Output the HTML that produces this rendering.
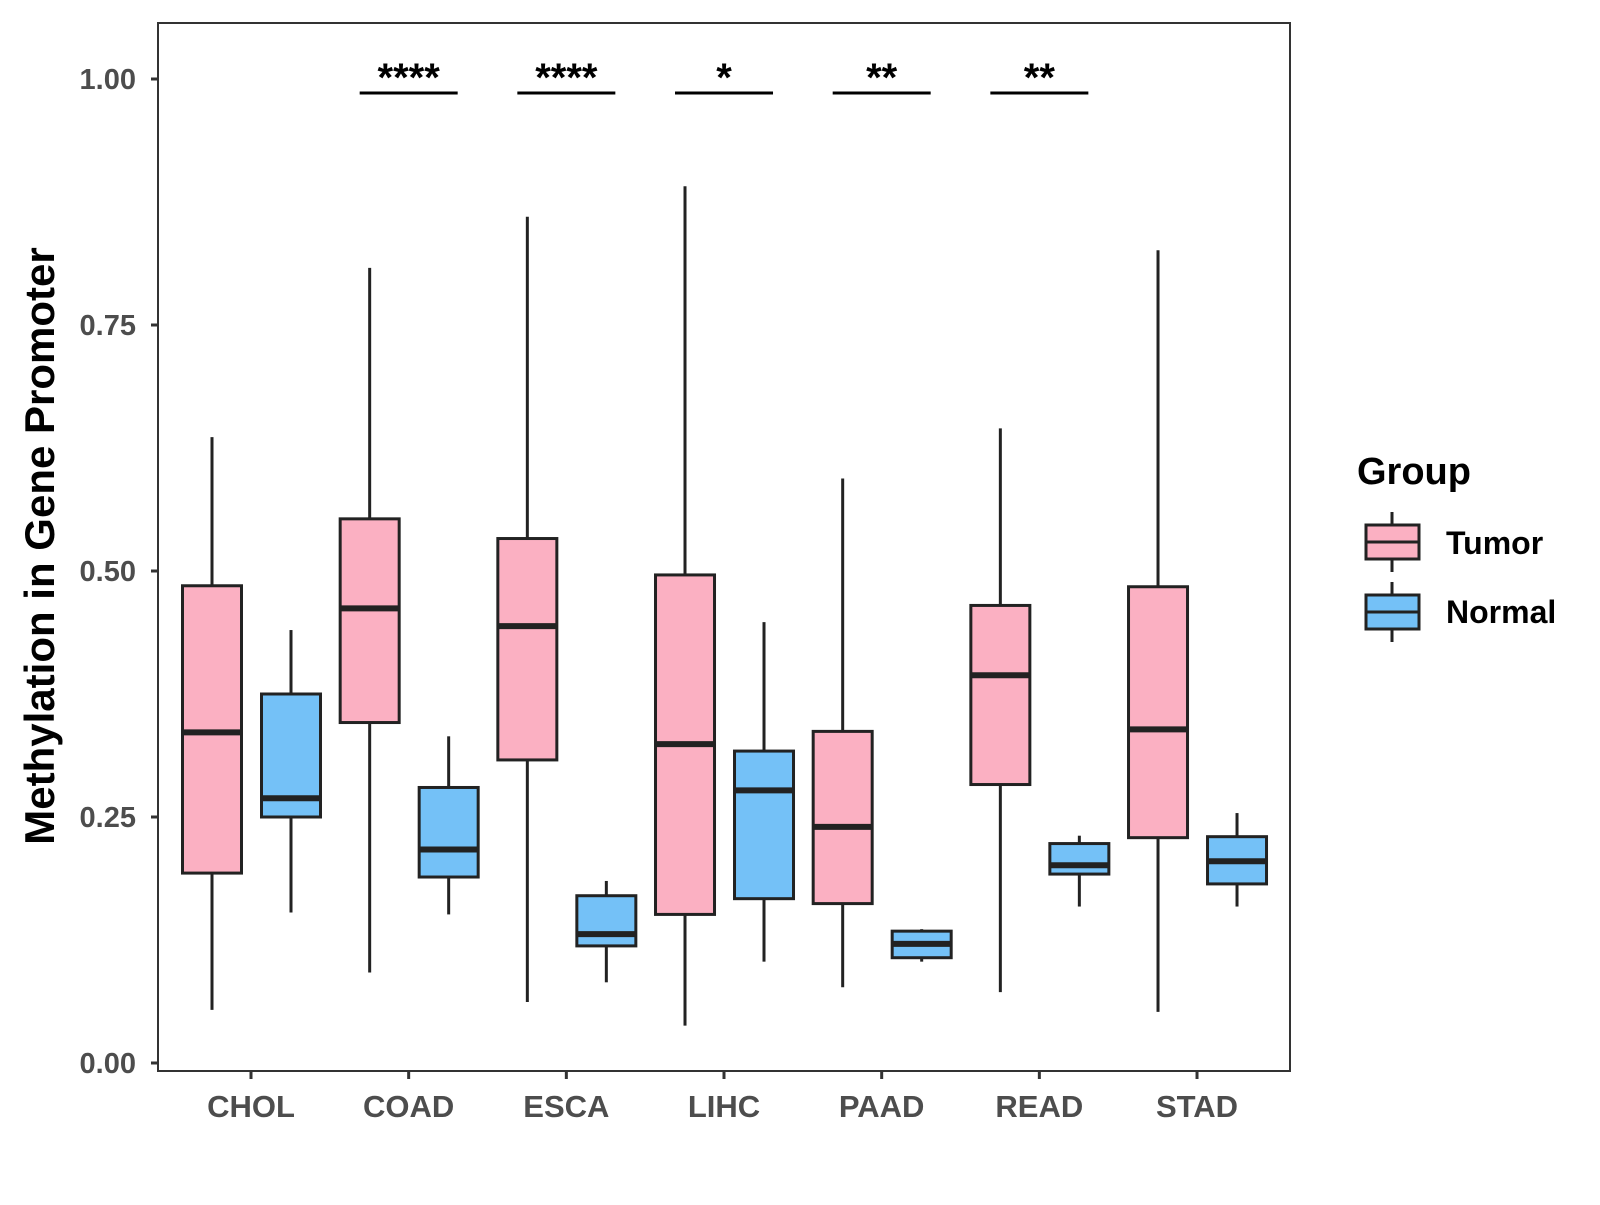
<!DOCTYPE html>
<html><head><meta charset="utf-8"><style>
body{margin:0;background:#fff}
text{font-family:"Liberation Sans",Arial,sans-serif;font-weight:bold}
</style></head><body>
<svg id="chart" width="1600" height="1200" xmlns="http://www.w3.org/2000/svg">
<rect x="0" y="0" width="1600" height="1200" fill="#fff"/>
<rect x="158" y="23" width="1132" height="1048" fill="none" stroke="#333" stroke-width="2"/>
<g id="marks"></g>
<text transform="translate(54,546) rotate(-90)" text-anchor="middle" font-size="42" fill="#000">Methylation in Gene Promoter</text>
<text x="1357" y="484" font-size="38" fill="#000">Group</text>
<g>
<line x1="1392" y1="512" x2="1392" y2="572" stroke="#222" stroke-width="3"/>
<rect x="1366" y="525" width="53" height="34" fill="#FBB0C2" stroke="#222" stroke-width="3"/>
<line x1="1366" y1="542" x2="1419" y2="542" stroke="#222" stroke-width="3"/>
<text x="1446" y="554" font-size="32" fill="#000">Tumor</text></g>
<g>
<line x1="1392" y1="582" x2="1392" y2="642" stroke="#222" stroke-width="3"/>
<rect x="1366" y="595" width="53" height="34" fill="#74C1F7" stroke="#222" stroke-width="3"/>
<line x1="1366" y1="612" x2="1419" y2="612" stroke="#222" stroke-width="3"/>
<text x="1446" y="623" font-size="32" fill="#000">Normal</text></g>
</svg>
<script>
const categories=["CHOL","COAD","ESCA","LIHC","PAAD","READ","STAD"];
const tumorMin=[0.054,0.092,0.062,0.038,0.077,0.072,0.052];
const tumorQ1=[0.193,0.346,0.308,0.151,0.162,0.283,0.229];
const tumorMed=[0.336,0.462,0.444,0.324,0.240,0.394,0.339];
const tumorQ3=[0.485,0.553,0.533,0.496,0.337,0.465,0.484];
const tumorMax=[0.636,0.808,0.860,0.891,0.594,0.645,0.826];
const normalMin=[0.153,0.151,0.082,0.103,0.103,0.159,0.159];
const normalQ1=[0.250,0.189,0.119,0.167,0.107,0.192,0.182];
const normalMed=[0.269,0.217,0.131,0.277,0.121,0.201,0.205];
const normalQ3=[0.375,0.280,0.170,0.317,0.134,0.223,0.230];
const normalMax=[0.440,0.332,0.185,0.448,0.136,0.231,0.254];
const sigLabels=["","****","****","*","**","**",""];
const yTicks=[0,0.25,0.5,0.75,1.0];
const yTickLabels=["0.00","0.25","0.50","0.75","1.00"];
const NS="http://www.w3.org/2000/svg";
const g=document.getElementById("marks");
function y(v){return 1063-v*984;}
function x(i){return 251+i*157.67;}
function mk(tag,a,parent){const e=document.createElementNS(NS,tag);for(const k in a)e.setAttribute(k,a[k]);(parent||g).appendChild(e);return e;}
yTicks.forEach((t,i)=>{
  const tk=mk("line",{x1:151,x2:158,y1:y(t),y2:y(t),stroke:"#333","stroke-width":3});
  
  
  const lb=mk("text",{x:136,y:y(t)+10,"text-anchor":"end","font-size":29,fill:"#4d4d4d"});
  
  
  lb.textContent=yTickLabels[i];
});
categories.forEach((c,i)=>{
  const tk=mk("line",{x1:x(i),x2:x(i),y1:1071,y2:1079,stroke:"#333","stroke-width":3});
  
  
  const lb=mk("text",{x:x(i),y:1117,"text-anchor":"middle","font-size":31,fill:"#4d4d4d"});
  
  
  lb.textContent=c;
  const groups=[[tumorMin,tumorQ1,tumorMed,tumorQ3,tumorMax,"#FBB0C2",-39,"tumor"],[normalMin,normalQ1,normalMed,normalQ3,normalMax,"#74C1F7",40,"normal"]];
  groups.forEach(gr=>{
    const cx=x(i)+gr[6],w=59;
    const bx=mk("g",{});
    
    
    mk("line",{x1:cx,x2:cx,y1:y(gr[4][i]),y2:y(gr[3][i]),stroke:"#222","stroke-width":3},bx);
    mk("line",{x1:cx,x2:cx,y1:y(gr[1][i]),y2:y(gr[0][i]),stroke:"#222","stroke-width":3},bx);
    mk("rect",{x:cx-w/2,y:y(gr[3][i]),width:w,height:y(gr[1][i])-y(gr[3][i]),fill:gr[5],stroke:"#222","stroke-width":3},bx);
    mk("line",{x1:cx-w/2,x2:cx+w/2,y1:y(gr[2][i]),y2:y(gr[2][i]),stroke:"#222","stroke-width":6},bx);
  });
  if(sigLabels[i]){
    const br=mk("line",{x1:x(i)-49,x2:x(i)+49,y1:93,y2:93,stroke:"#000","stroke-width":3});
    
    
    const st=mk("text",{x:x(i),y:91,"text-anchor":"middle","font-size":40,fill:"#000"});
    
    
    st.textContent=sigLabels[i];
  }
});
</script>
</body></html>
